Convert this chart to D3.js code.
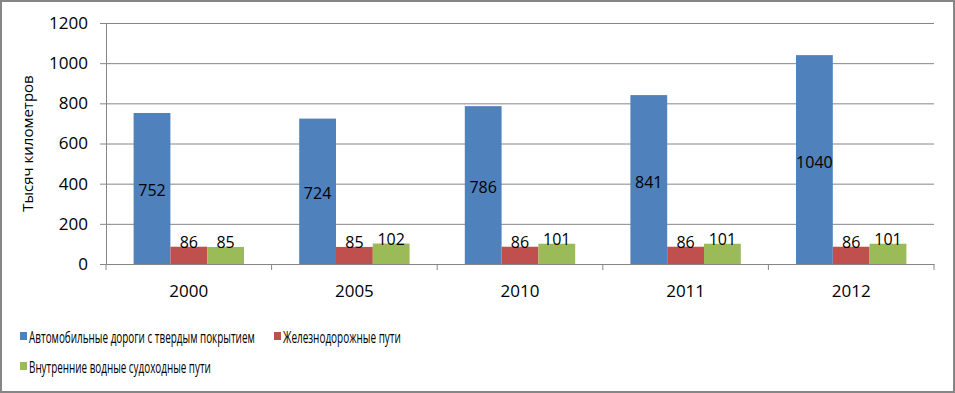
<!DOCTYPE html>
<html>
<head>
<meta charset="utf-8">
<script src="https://cdn.jsdelivr.net/npm/d3@7"></script>
<style>
  body { margin: 0; background: #fff; }
  text { font-family: "Open Sans", "Noto Sans", sans-serif; }
</style>
</head>
<body>
<div class="canvas"></div>
<script>
var years = ["2000", "2005", "2010", "2011", "2012"];
var seriesNames = [
    "Автомобильные дороги с твердым покрытием",
    "Железнодорожные пути",
    "Внутренние водные судоходные пути"
];
var roads = [752, 724, 786, 841, 1040];
var rails = [86, 85, 86, 86, 86];
var water = [85, 102, 101, 101, 101];
var yTicks = [0, 200, 400, 600, 800, 1000, 1200];
var colors = ["#4f81bd", "#c0504d", "#9bbb59"];

var width = 955, height = 393;
var svg = d3.select(".canvas").append("svg")
    .attr("width", width)
    .attr("height", height);

// outer frame
svg.append("rect")
    .attr("x", 1).attr("y", 1)
    .attr("width", width - 2).attr("height", height - 2)
    .attr("fill", "#fff")
    .attr("stroke", "#868686")
    .attr("stroke-width", 2);

var plotL = 106, plotR = 934, plotT = 23, plotB = 264;

var x = d3.scaleBand().domain(years).range([plotL, plotR]);
var series = [roads, rails, water];
var groupW = x.bandwidth() / 1.5;
var x1 = d3.scaleBand().domain([0, 1, 2]).range([0, groupW]);
var y = d3.scaleLinear().domain([0, 1200]).range([plotB, plotT]);

// gridlines
svg.append("g").selectAll("line")
    .data(yTicks.slice(1))
    .enter().append("line")
    .attr("x1", plotL).attr("x2", plotR)
    .attr("y1", function(d) { return y(d) + 0.5; })
    .attr("y2", function(d) { return y(d) + 0.5; })
    .attr("stroke", "#868686")
    .attr("stroke-width", 1);

// y axis
var yAxis = svg.append("g")
    .attr("transform", "translate(" + plotL + ",0)")
    .call(d3.axisLeft(y).tickValues(yTicks).tickSize(6).tickPadding(12).tickFormat(d3.format("d")));
yAxis.select(".domain").attr("stroke", "#868686");
yAxis.selectAll(".tick line").attr("stroke", "#868686");
yAxis.selectAll("text")
    .attr("font-size", 17)
    .attr("fill", "#000")
    .style("font-family", "'Open Sans', sans-serif");

// x axis
var xAxis = svg.append("g")
    .attr("transform", "translate(0," + plotB + ")")
    .call(d3.axisBottom(x).tickSize(0).tickPadding(21));
xAxis.select(".domain").attr("stroke", "#868686");
xAxis.selectAll("text")
    .attr("font-size", 17)
    .attr("fill", "#000")
    .style("font-family", "'Open Sans', sans-serif");
// category separator ticks
var seps = years.map(function(d) { return x(d); }).concat([plotR]);
svg.append("g").selectAll("line")
    .data(seps)
    .enter().append("line")
    .attr("x1", function(d) { return d; }).attr("x2", function(d) { return d; })
    .attr("y1", plotB).attr("y2", plotB + 6)
    .attr("stroke", "#868686");

// bars
years.forEach(function(yr, i) {
    var gx = x(yr) + (x.bandwidth() - groupW) / 2;
    series.forEach(function(s, k) {
        var v = s[i];
        svg.append("rect")
            .attr("x", gx + x1(k))
            .attr("y", y(v))
            .attr("width", x1.bandwidth())
            .attr("height", y(0) - y(v))
            .attr("fill", colors[k]);
        var ly = k == 0 ? y(v / 2) + 8 : y(v) + 1;
        svg.append("text")
            .attr("x", gx + x1(k) + x1.bandwidth() / 2)
            .attr("y", ly)
            .attr("text-anchor", "middle")
            .attr("font-size", 16)
            .attr("fill", "#000")
            .text(v);
    });
});

// y title
svg.append("text")
    .attr("transform", "translate(33," + ((plotT + plotB) / 2) + ") rotate(-90)")
    .attr("text-anchor", "middle")
    .attr("font-size", 15)
    .attr("fill", "#000")
    .text("Тысяч километров");

// legend (text squeezed horizontally, like a condensed font)
var legendPos = [[20, 337], [274, 337], [20, 367]];
var legendLen = [226, 118, 182];
seriesNames.forEach(function(name, k) {
    svg.append("rect")
        .attr("x", legendPos[k][0])
        .attr("y", legendPos[k][1] - 5)
        .attr("width", 7).attr("height", 8)
        .attr("fill", colors[k]);
    var g = svg.append("g")
        .attr("transform", "translate(" + (legendPos[k][0] + 9) + "," + (legendPos[k][1] + 6) + ")");
    var t = g.append("text")
        .attr("font-size", 17)
        .attr("fill", "#000")
        .text(name);
    var w = t.node().getComputedTextLength();
    t.attr("transform", "scale(" + (legendLen[k] / w) + ",1)");
});
</script>
</body>
</html>
